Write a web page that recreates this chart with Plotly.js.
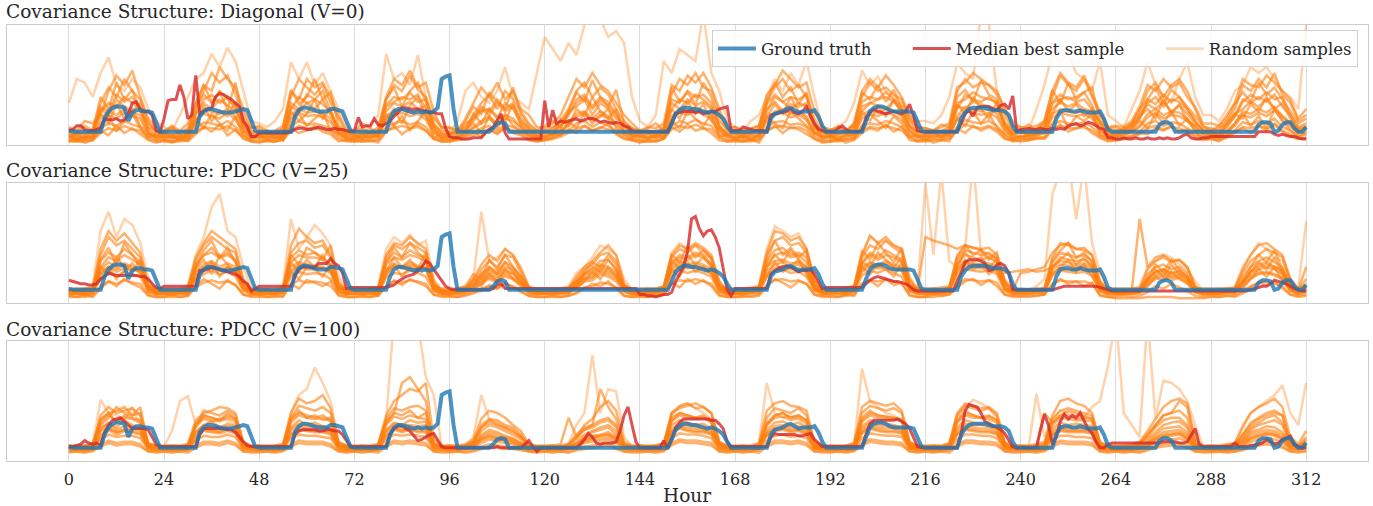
<!DOCTYPE html>
<html>
<head>
<meta charset="utf-8">
<script src="https://cdn.plot.ly/plotly-3.0.1.min.js"></script>
<style>html,body{margin:0;padding:0;background:#fff;}#chart{width:1373px;height:506px;}</style>
</head>
<body>
<div id="chart"></div>
<script>
// ---------- DATA (arbitrary units: panel bottom = 0, top = 100) ----------
const panelTitles = [
  'Covariance Structure: Diagonal (V=0)',
  'Covariance Structure: PDCC (V=25)',
  'Covariance Structure: PDCC (V=100)'
];
const xTicks = [0, 24, 48, 72, 96, 120, 144, 168, 192, 216, 240, 264, 288, 312];
const legendNames = ['Ground truth', 'Median best sample', 'Random samples'];

// Ground truth, hourly h0..h312
const groundTruth = [
 12,11,11,11,11,11,11,11,11,22,28,31,32,32,31,20,27,29,29,28,28,27,18,11,
 11,11,11,11,11,11,11,11,11,24,28,30,30,29,28,27,27,27,28,29,30,29,20,12,
 11,11,11,11,11,11,11,11,11,24,29,31,31,30,29,28,28,28,30,30,29,28,20,12,
 11,11,11,11,11,11,11,11,11,22,28,30,30,29,28,27,28,27,28,27,28,31,55,57,
 58,30,11,11,11,11,11,11,11,11,11,14,18,19,18,11,11,11,11,11,11,11,11,11,
 11,11,11,11,11,11,11,11,11,11,11,11,11,11,11,11,11,11,11,11,11,11,11,11,
 11,11,11,11,11,11,11,11,18,26,29,31,31,30,30,29,28,27,28,27,25,22,16,11,
 11,11,11,11,11,11,11,11,11,22,26,27,28,30,31,29,27,28,28,28,29,24,16,11,
 11,11,11,11,11,11,11,11,11,20,28,31,32,32,31,29,28,28,28,28,28,27,20,12,
 11,11,11,11,11,11,11,11,11,22,27,30,31,31,31,31,30,29,29,29,28,25,16,11,
 11,11,11,11,11,11,11,11,11,22,28,29,29,28,28,29,28,27,27,27,28,22,13,11,
 11,11,11,11,11,11,11,11,11,11,11,17,19,19,17,11,11,11,11,11,11,11,11,11,
 11,11,11,11,11,11,11,11,11,11,11,11,17,19,19,18,11,12,17,19,19,14,11,11,
 15
];

// Median best sample, hourly, one per panel
const medianDiag = [
 12,13,16,16,13,12,12,13,14,22,21,21,22,20,21,26,35,36,30,28,28,25,12,11,
 22,37,38,38,50,40,22,25,58,26,28,30,31,40,43,42,40,38,35,32,20,15,7,7,
 10,10,10,10,10,10,10,10,11,13,14,14,13,13,14,15,14,13,13,14,13,13,12,11,
 12,23,15,16,16,22,17,16,18,20,24,27,31,31,30,30,30,29,28,27,27,26,26,14,
 7,6,6,5,5,5,6,6,6,10,13,15,20,26,10,5,5,5,5,5,5,5,5,5,
 37,15,29,18,20,19,20,21,22,20,21,22,22,21,19,20,19,18,19,18,16,15,12,11,
 11,11,11,11,11,11,11,11,18,26,27,28,28,28,27,28,26,27,28,28,30,31,32,12,
 12,12,15,14,13,12,12,12,11,25,26,27,27,28,30,27,26,28,32,24,18,13,12,11,
 11,11,14,16,13,11,11,11,12,23,27,30,28,27,26,27,28,27,26,28,34,24,12,11,
 11,11,11,11,11,11,11,11,11,18,26,29,24,31,32,32,32,30,29,33,34,30,41,12,
 13,13,14,13,13,14,13,13,14,13,14,13,16,17,18,16,17,19,18,16,14,13,6,6,
 5,5,6,5,5,6,5,5,6,5,5,6,5,6,5,5,6,8,9,6,5,5,6,6,
 7,7,7,7,7,7,7,7,7,7,7,7,11,11,11,11,9,8,9,8,7,7,6,5,
 5
];
const medianPdcc25 = [
 19,18,17,16,16,15,15,16,20,22,25,24,23,23,23,23,23,23,22,22,20,16,13,12,
 14,14,14,14,14,14,14,14,14,27,27,28,30,29,28,27,26,25,24,22,18,16,10,12,
 14,14,14,14,14,14,14,14,14,22,28,30,30,30,30,33,33,33,37,33,31,25,12,13,
 13,13,13,13,13,13,13,13,13,14,15,18,20,22,23,24,27,30,35,33,28,23,18,14,
 12,11,11,11,11,11,11,11,11,11,11,12,15,16,12,12,12,12,12,12,12,12,12,12,
 12,12,12,12,12,12,12,12,12,12,12,12,12,12,12,12,12,12,12,12,12,12,12,12,
 7,7,6,6,5,6,7,7,9,18,24,30,43,70,72,62,56,60,61,55,46,30,11,6,
 12,12,12,12,12,12,12,12,12,24,27,29,30,31,30,28,26,27,27,28,24,18,12,13,
 13,13,13,13,13,13,13,13,13,16,19,21,22,21,20,19,18,18,17,16,14,11,10,10,
 10,10,10,10,10,10,10,10,18,25,34,36,36,36,35,33,27,28,32,33,31,25,11,11,
 11,11,11,11,11,11,11,11,11,12,13,14,14,14,14,14,14,14,14,14,13,12,11,10,
 10,10,10,10,10,10,10,10,10,10,10,10,10,10,10,10,10,10,10,10,10,10,10,10,
 10,10,10,10,10,10,10,10,10,10,11,12,13,14,14,16,19,18,17,16,14,12,11,10,
 10
];
const medianPdcc100 = [
 12,12,13,14,17,15,14,15,13,24,30,34,35,36,33,30,27,27,27,27,26,20,14,12,
 12,12,12,12,12,12,12,12,12,22,27,27,27,27,27,27,26,26,24,20,16,13,12,12,
 12,12,12,12,12,12,12,12,12,22,25,26,26,26,26,25,25,26,26,25,25,22,17,12,
 12,12,12,12,12,12,12,12,12,22,27,29,29,27,25,21,17,18,20,22,23,18,12,11,
 11,11,11,11,11,11,11,11,11,11,11,11,12,11,11,11,11,11,11,14,17,12,8,11,
 11,11,11,11,11,11,11,11,11,14,18,23,20,15,14,15,15,15,16,25,38,45,30,16,
 11,11,11,11,11,11,17,11,18,28,32,35,35,35,35,35,35,35,34,34,31,27,16,12,
 12,12,12,12,12,12,12,12,12,20,23,22,22,22,22,22,21,21,22,23,18,15,12,12,
 12,12,12,12,12,12,12,12,12,22,31,34,34,34,34,34,34,35,33,31,27,19,12,11,
 11,11,11,11,11,11,11,11,11,23,42,47,46,45,40,33,31,29,28,26,23,18,12,11,
 11,11,11,11,11,26,39,30,14,20,33,39,35,38,36,40,33,27,23,16,11,11,14,15,
 15,15,15,15,15,15,15,15,15,15,15,15,16,16,16,16,15,15,16,22,27,14,12,12,
 12,12,12,12,12,12,15,12,12,12,13,13,14,15,18,16,14,15,18,19,21,14,12,11,
 11
];

// Random samples, every 2 hours h0,h2,...,h312 (12 values per day + final)
const samplesDiag = [
 [35,55,52,40,60,73,50,45,55,48,30,20, 15,12,25,40,55,60,76,65,81,70,45,20, 18,15,20,30,69,55,69,50,60,45,30,15, 12,10,15,25,76,55,60,50,75,40,25,15, 10,20,45,52,40,35,45,65,40,35,30,60, 90,80,70,85,75,100,110,105,90,95,85,40, 20,15,25,70,60,80,75,70,110,60,45,20, 15,12,20,25,40,55,45,60,50,70,40,15, 12,15,20,35,62,50,57,45,40,35,25,20, 20,18,25,40,68,60,55,110,100,45,30,20, 15,12,30,50,76,70,76,60,55,45,70,25, 20,15,30,45,69,50,40,35,55,69,40,25, 25,20,30,45,50,65,60,65,55,45,40,30, 100],
 [8,10,9,12,35,48,40,55,45,38,20,10, 9,8,10,12,30,45,60,52,58,42,25,12, 10,9,8,14,40,55,48,42,50,35,22,10, 8,9,10,12,38,50,45,58,46,40,18,10, 9,12,15,25,35,42,30,45,38,28,18,12, 10,14,20,30,45,52,40,48,42,30,20,14, 12,10,11,15,42,55,50,60,48,45,25,12, 10,9,10,14,36,48,55,45,50,40,22,11, 9,10,12,16,40,52,45,48,42,38,20,12, 11,10,12,15,45,55,48,52,50,42,25,12, 10,12,14,18,40,58,50,45,55,40,25,14, 12,14,18,28,45,52,40,50,55,45,30,15, 14,12,20,30,50,45,55,48,60,42,35,20, 25],
 [6,5,6,8,28,35,32,40,35,30,12,6, 7,6,6,9,25,38,42,35,40,30,15,7, 6,7,6,8,30,40,35,38,34,28,12,7, 7,6,7,9,32,36,40,38,42,30,14,6, 6,8,12,20,28,30,22,35,30,18,12,8, 8,10,15,25,35,40,30,38,33,25,15,9, 7,6,8,10,30,38,35,42,38,32,16,8, 6,7,6,9,28,40,36,30,35,32,14,7, 7,6,8,12,32,35,38,40,36,30,15,8, 8,7,9,10,30,42,38,36,40,34,16,8, 7,8,10,14,35,38,40,36,38,30,18,9, 9,10,14,22,35,40,32,38,36,30,20,12, 10,9,15,24,38,35,40,36,42,32,25,15, 18],
 [5,5,5,6,22,28,25,30,27,25,10,5, 5,4,5,7,20,30,28,26,30,24,12,6, 6,5,5,6,25,30,27,28,26,22,10,5, 5,5,6,7,24,28,30,27,29,24,11,5, 5,6,9,15,20,24,18,25,22,15,9,6, 6,8,12,18,26,28,22,28,24,18,12,7, 5,5,6,8,24,30,28,32,28,25,12,6, 5,6,5,7,22,28,30,26,28,24,11,6, 6,5,6,9,25,29,27,30,28,24,12,6, 6,6,7,8,24,32,30,28,30,26,13,6, 6,7,8,10,26,30,28,27,29,24,14,7, 7,8,11,16,26,30,25,28,27,22,15,9, 8,7,12,18,28,26,30,27,32,24,18,11, 13],
 [4,3,4,5,14,18,16,20,17,15,7,4, 4,3,4,5,13,19,18,16,20,15,8,4, 4,4,3,5,16,20,17,18,16,14,7,4, 3,4,4,5,15,18,20,17,19,15,7,4, 4,5,7,10,14,16,12,17,15,11,7,5, 5,6,9,12,18,20,15,19,16,12,8,5, 4,3,4,6,16,20,18,21,18,16,8,4, 4,4,4,5,15,19,20,17,18,15,7,4, 4,4,5,6,16,18,17,20,18,15,8,4, 4,5,5,6,15,21,19,18,20,16,8,4, 5,5,6,7,17,20,18,17,19,15,9,5, 5,6,8,11,18,20,16,19,18,14,10,6, 6,5,8,12,19,17,20,18,22,15,12,7, 9],
 [10,8,12,9,30,25,38,32,28,35,15,12, 9,14,8,10,26,35,30,38,33,28,18,10, 12,9,10,8,32,28,35,30,38,25,14,9, 10,12,9,11,28,35,32,36,30,33,16,12, 11,9,18,22,30,25,35,28,32,20,14,10, 12,15,18,28,32,38,25,35,30,22,18,11, 10,12,9,14,35,30,38,33,36,30,15,10, 12,9,11,13,30,36,28,34,32,35,17,12, 9,11,10,15,28,35,33,30,37,28,16,11, 10,12,11,13,33,30,36,34,32,30,18,10, 12,10,13,16,30,36,32,35,30,28,20,12, 11,13,16,25,34,30,36,28,33,26,18,13, 12,14,18,26,30,36,32,38,30,35,22,14, 16],
 [7,6,7,7,18,25,22,27,24,22,9,7, 7,6,6,8,20,26,24,22,27,21,10,7, 7,7,6,7,22,27,24,25,23,19,9,6, 6,7,7,8,21,25,27,24,26,21,10,7, 7,7,10,14,18,22,16,22,20,14,9,7, 7,9,12,16,24,26,20,25,22,16,11,8, 7,6,7,9,22,27,25,29,25,22,10,7, 6,7,7,8,20,25,27,23,25,21,10,7, 7,7,8,9,22,26,24,27,25,21,10,7, 7,8,8,9,21,28,27,25,27,23,11,7, 7,8,9,11,23,27,25,24,26,22,12,8, 8,9,11,15,23,27,22,25,24,20,13,9, 9,8,11,16,25,23,27,24,29,21,15,10, 11],
 [15,12,20,18,25,45,58,50,62,40,22,15, 12,15,10,14,35,50,45,65,55,48,30,15, 14,10,12,16,45,38,55,48,52,40,25,12, 12,14,10,15,40,55,50,62,48,52,28,14, 15,12,22,35,48,40,52,38,45,30,25,15, 14,18,25,40,55,48,60,50,45,35,25,18, 12,15,14,18,50,45,58,52,60,48,30,14, 15,12,14,16,42,50,62,55,48,52,28,15, 13,14,12,18,45,55,48,58,50,40,25,14, 14,12,15,18,48,52,60,55,50,45,30,16, 15,14,16,20,45,60,52,48,58,42,28,15, 16,15,20,32,50,45,55,48,52,40,32,18, 18,16,25,35,55,50,48,58,52,45,38,22, 30],
 [3,3,3,4,10,14,12,16,13,12,5,3, 3,3,3,4,11,15,14,13,16,12,6,3, 3,3,3,4,12,16,14,14,13,11,5,3, 3,3,3,4,12,14,16,14,15,12,5,3, 3,4,5,8,11,13,10,14,12,9,5,3, 4,5,7,10,14,16,12,15,13,10,6,4, 3,3,3,5,13,16,14,17,14,13,6,3, 3,3,3,4,12,15,16,14,15,12,5,3, 3,3,4,5,13,15,14,16,14,12,6,3, 3,4,4,5,12,17,15,14,16,13,6,3, 4,4,5,6,14,16,14,14,15,12,7,4, 4,5,6,9,14,16,13,15,14,11,8,5, 5,4,6,10,15,14,16,14,18,12,9,5, 6],
 [8,7,9,10,32,28,42,36,40,30,14,8, 8,9,7,10,30,42,35,45,38,33,16,9, 9,8,8,10,35,30,42,38,45,28,14,8, 8,9,8,11,33,40,38,44,36,38,15,9, 9,10,14,22,32,28,38,30,35,22,14,9, 10,12,16,26,38,42,32,40,36,26,16,10, 9,8,9,12,38,35,45,40,42,35,16,9, 8,9,9,11,34,42,36,40,38,42,15,9, 9,9,10,13,36,40,38,44,38,32,16,10, 9,10,10,12,35,38,44,40,38,36,17,9, 10,9,11,14,36,42,38,40,44,33,18,10, 10,11,14,22,38,34,42,36,40,30,20,12, 11,10,16,24,36,42,38,44,38,40,25,13, 15],
 [6,9,5,12,26,18,34,22,30,16,10,7, 11,6,8,5,18,33,20,28,24,36,12,8, 7,12,6,9,28,20,26,38,22,30,9,12, 9,5,11,7,22,30,18,33,40,24,14,6, 8,14,10,26,18,30,24,20,34,16,11,7, 12,8,22,16,30,24,40,28,22,30,10,9, 7,10,6,12,30,22,36,26,34,20,13,8, 10,6,9,7,24,34,26,40,28,22,9,11, 6,9,12,8,28,20,32,24,38,26,12,7, 8,11,7,10,34,26,40,30,22,36,14,9, 12,7,10,14,26,38,28,34,24,30,11,8, 9,12,16,24,30,22,38,26,34,20,16,10, 11,8,18,26,22,34,28,40,30,24,18,12, 14],
 [9,4,7,6,15,24,12,20,26,14,6,10, 5,8,4,9,22,14,26,18,12,24,8,5, 8,5,9,4,18,26,16,22,28,12,10,6, 4,9,6,8,26,16,24,12,20,28,6,9, 7,5,12,18,10,24,14,26,16,12,8,5, 6,10,8,20,14,28,18,24,30,14,9,6, 9,5,8,6,20,14,28,22,16,26,7,9, 5,8,4,9,24,18,14,28,22,16,10,5, 8,4,9,6,16,26,20,14,24,18,7,8, 4,9,6,8,22,16,28,18,26,14,9,5, 7,5,8,10,18,28,14,24,20,26,8,7, 6,9,12,20,14,26,18,28,16,22,11,6, 9,6,10,18,26,16,24,14,30,20,12,8, 10],
 [14,10,16,12,40,30,52,38,46,28,18,12, 11,16,12,18,34,50,36,44,30,52,20,14, 16,12,10,14,46,34,40,55,38,44,16,11, 12,18,14,10,38,48,32,45,52,36,22,15, 14,11,20,32,26,44,36,30,48,26,16,12, 16,20,14,28,44,36,54,40,32,46,18,14, 11,14,18,12,48,36,44,34,52,40,20,13, 15,11,13,16,36,52,40,48,34,44,17,12, 12,16,11,18,44,38,50,36,46,30,22,15, 14,12,17,15,40,46,36,54,42,38,19,12, 13,17,12,20,46,34,52,38,44,48,20,14, 15,12,18,30,38,48,34,46,40,32,24,16, 12,16,22,34,44,36,52,42,48,38,28,18, 22],
 [3,5,2,4,12,8,16,10,14,9,4,2, 4,2,5,3,9,15,11,17,8,13,5,3, 2,4,3,5,14,10,12,16,11,9,3,4, 5,3,4,2,11,16,9,14,17,12,5,3, 3,5,8,11,7,13,9,15,10,8,4,3, 4,6,9,13,10,16,12,14,18,9,5,4, 2,4,3,5,15,11,17,12,14,10,4,3, 4,3,5,2,12,16,10,15,13,9,5,2, 3,5,2,4,10,14,12,17,11,15,4,3, 5,2,4,3,14,10,16,12,15,11,5,4, 3,4,6,5,12,17,11,14,16,10,6,3, 4,5,7,10,9,14,12,16,11,13,6,4, 5,3,8,11,14,10,16,12,17,11,7,5, 6]
];
const samplesPdcc25 = [
 [12,10,11,14,60,76,55,70,65,50,20,12, 11,10,12,15,40,55,80,91,60,55,30,12, 12,11,10,14,70,45,55,65,58,48,22,12, 11,12,10,14,45,55,50,57,48,52,20,11, 10,12,14,20,76,35,38,45,40,30,14,11, 11,10,12,14,25,30,38,48,45,40,20,11, 10,11,12,14,42,50,45,48,40,38,18,10, 11,10,12,14,45,64,60,55,58,45,20,11, 10,11,12,14,40,56,50,52,48,45,22,12, 100,40,110,35,30,45,120,40,38,35,20,12, 12,11,14,20,91,110,120,70,115,50,25,12, 11,10,12,14,30,35,40,38,32,28,18,11, 10,11,12,14,30,40,50,45,38,35,20,12, 68],
 [10,9,10,12,40,55,48,52,45,38,15,10, 10,9,10,12,35,48,55,50,45,42,18,10, 10,10,9,12,42,50,52,46,48,38,16,10, 10,10,11,12,38,48,45,50,46,42,16,10, 10,11,12,18,28,35,30,40,38,25,12,10, 10,10,11,12,20,28,32,40,42,35,15,10, 10,10,11,13,38,45,42,48,44,38,16,10, 10,10,11,13,40,52,55,48,50,42,18,10, 10,11,11,13,38,48,45,52,46,42,18,11, 55,52,50,48,45,48,46,44,40,38,18,11, 25,26,28,30,42,48,50,45,44,40,18,11, 11,10,11,12,28,35,38,34,36,30,14,10, 10,10,11,12,25,35,40,45,42,38,18,11, 20],
 [9,8,9,10,28,34,30,33,30,28,12,9, 9,8,9,10,26,32,35,30,33,30,13,9, 9,9,8,10,30,34,32,31,30,27,12,9, 9,9,9,10,28,33,30,34,31,29,12,9, 9,9,10,14,22,26,22,28,25,18,10,9, 9,9,10,10,16,22,24,30,28,24,12,9, 9,9,10,11,30,35,32,34,32,28,12,9, 9,9,10,11,30,35,36,33,34,30,13,9, 9,10,10,11,30,34,32,35,32,30,13,9, 10,9,10,11,30,35,33,32,33,30,14,9, 9,10,10,11,30,35,34,32,33,30,14,9, 9,9,10,10,20,26,28,25,27,22,11,9, 9,9,10,10,18,26,30,32,30,26,13,9, 12],
 [7,7,7,8,20,25,22,26,24,22,9,7, 7,7,7,8,19,24,27,24,26,22,10,7, 7,7,7,8,22,26,24,25,24,20,9,7, 7,7,7,8,21,25,24,27,25,22,10,7, 7,7,8,11,16,20,17,22,20,14,8,7, 7,7,7,8,13,18,19,24,22,18,9,7, 7,7,8,9,22,27,25,27,25,22,9,7, 7,7,8,9,22,27,28,25,26,22,10,7, 7,7,8,9,23,27,25,28,25,22,10,7, 7,7,8,9,22,28,27,26,27,24,10,7, 7,8,8,9,23,27,26,25,26,23,10,7, 7,7,8,8,15,20,22,19,21,17,9,7, 7,7,8,8,14,20,24,25,23,20,10,7, 9],
 [11,10,10,11,24,30,26,29,28,27,12,10, 10,10,10,11,22,29,29,27,28,28,13,10, 10,10,10,11,25,31,28,28,29,26,12,10, 10,10,10,11,23,30,29,30,28,30,12,10, 10,10,11,13,18,22,18,24,21,16,11,10, 10,10,10,11,14,20,21,26,24,20,12,10, 10,10,11,12,25,31,29,30,28,25,12,10, 10,10,11,12,24,29,31,28,29,26,12,10, 10,11,11,12,26,31,29,29,28,27,12,10, 10,10,11,12,25,31,30,29,29,26,12,10, 10,11,11,12,25,29,28,28,28,26,12,10, 10,10,11,11,16,22,24,21,22,18,11,10, 10,10,11,11,15,22,25,26,24,21,12,10, 14],
 [8,8,8,10,35,42,38,45,40,34,14,8, 8,8,9,10,32,40,46,38,42,36,15,8, 9,8,8,10,38,44,40,42,38,32,14,8, 8,8,9,10,34,42,38,44,40,38,14,8, 8,9,10,15,25,30,26,34,30,22,11,8, 8,8,9,10,18,25,28,35,36,28,13,8, 8,9,9,11,34,40,38,42,40,32,14,8, 8,8,9,11,35,44,46,40,42,38,15,8, 8,9,9,11,34,42,38,44,40,36,15,9, 9,8,9,11,36,44,42,40,42,36,16,9, 9,9,10,11,34,42,40,38,40,35,16,9, 8,8,9,10,24,30,32,28,30,25,12,8, 8,8,9,10,22,30,35,38,34,30,15,9, 14],
 [5,5,5,6,14,18,16,19,17,16,7,5, 5,5,5,6,13,17,19,17,18,15,7,5, 5,5,5,6,15,19,17,18,17,14,7,5, 5,5,5,6,14,18,17,19,18,16,7,5, 5,5,6,8,12,14,12,16,14,10,6,5, 5,5,5,6,9,13,14,17,16,13,6,5, 5,5,6,7,16,19,18,20,18,16,7,5, 5,5,6,7,15,19,20,18,19,16,7,5, 5,5,6,7,16,19,18,20,18,16,7,5, 5,5,6,7,15,20,19,18,19,17,7,5, 5,6,6,7,16,19,18,18,18,16,7,5, 4,4,4,4,5,5,5,5,4,4,4,4, 5,5,6,6,10,14,17,18,16,14,7,5, 6],
 [10,10,10,12,45,60,52,58,50,42,16,10, 10,10,10,12,38,50,60,55,50,45,20,10, 10,10,10,12,48,62,55,50,52,40,18,10, 10,10,10,12,40,50,48,55,50,45,18,10, 10,10,12,20,32,40,35,45,40,28,13,10, 10,10,10,12,22,30,35,42,48,40,16,10, 10,10,11,13,40,48,45,50,46,40,18,10, 10,10,11,13,42,60,58,52,55,45,20,10, 10,11,11,13,40,56,50,55,48,45,20,11, 11,10,11,13,40,48,46,45,46,40,18,10, 10,11,11,13,38,50,48,45,46,40,18,10, 10,10,10,70,30,38,40,35,36,30,14,10, 10,10,10,12,28,40,48,50,45,40,20,11, 30],
 [8,8,9,9,26,30,28,32,28,26,11,8, 8,8,8,9,24,30,33,28,30,28,12,8, 8,8,8,9,27,32,30,30,29,25,11,8, 8,8,8,9,26,31,29,32,30,28,11,8, 8,8,9,12,20,24,20,26,24,17,9,8, 8,8,8,9,15,20,22,28,26,22,11,8, 8,8,9,10,28,33,30,32,30,26,11,8, 8,8,9,10,27,32,34,30,32,28,12,8, 8,9,9,10,28,33,30,33,30,28,12,8, 8,8,9,10,28,33,32,30,31,28,12,8, 8,9,9,10,28,32,31,30,31,28,12,8, 8,8,8,9,18,24,26,22,24,20,10,8, 8,8,9,9,17,24,28,30,28,24,12,8, 11],
 [12,12,12,13,30,38,35,40,36,32,14,12, 12,12,12,13,30,40,42,38,40,35,15,12, 12,12,12,13,34,40,38,38,36,32,14,12, 12,12,12,13,32,38,36,40,38,35,14,12, 12,12,13,15,24,28,24,30,28,20,13,12, 12,12,12,13,18,24,26,32,30,26,14,12, 12,12,12,14,32,38,36,40,38,32,14,12, 12,12,13,14,32,40,42,38,40,34,15,12, 12,12,13,14,33,40,36,40,38,34,15,12, 12,12,13,14,32,40,38,36,38,34,25,26, 27,28,26,27,30,38,36,35,36,32,15,12, 12,12,12,12,20,26,28,24,26,22,12,12, 12,12,12,12,18,26,32,34,30,28,14,12, 16],
 [9,11,8,10,22,30,20,27,33,24,12,9, 10,8,11,9,20,28,34,22,30,26,11,10, 8,10,9,11,26,20,30,28,22,32,10,8, 11,9,10,8,24,32,22,30,26,35,12,10, 9,10,12,16,14,24,18,28,20,15,10,9, 10,9,11,10,12,18,26,20,30,22,11,9, 9,11,9,12,28,22,34,26,30,24,11,9, 10,9,11,10,22,34,26,30,36,24,12,10, 11,10,9,12,30,24,32,28,22,34,11,9, 9,11,10,12,26,36,28,32,24,30,12,10, 10,9,11,10,24,30,36,26,32,22,11,9, 9,10,9,11,14,22,18,26,20,16,10,9, 10,9,11,10,12,20,28,22,30,18,11,10, 12],
 [7,9,6,8,30,24,38,30,26,36,10,7, 8,6,9,7,28,36,24,40,32,26,12,8, 6,8,7,9,34,26,36,30,40,28,9,7, 9,7,8,6,26,38,30,36,28,42,11,8, 7,8,10,20,16,30,24,34,26,18,8,7, 8,7,9,8,14,24,30,26,36,28,10,7, 7,9,8,10,36,28,40,32,38,30,10,7, 8,7,9,8,30,40,34,44,36,30,11,8, 9,8,7,10,34,30,42,36,30,38,10,8, 7,9,8,10,32,42,34,38,30,36,11,8, 8,7,9,8,30,36,42,32,38,30,10,7, 7,8,7,9,18,28,22,32,24,20,9,7, 8,7,9,8,16,26,34,28,38,24,10,8, 10],
 [6,5,7,5,12,18,14,20,16,13,6,5, 5,7,5,6,14,20,16,12,19,15,7,6, 7,5,6,5,16,12,19,17,14,18,6,5, 5,6,5,7,13,19,15,20,17,14,7,6, 6,5,7,9,10,15,12,17,13,9,6,5, 5,6,5,6,8,12,16,14,18,12,6,5, 6,5,6,7,17,13,20,16,19,14,6,5, 5,6,5,6,14,20,17,13,18,16,7,6, 6,5,7,6,16,19,14,20,15,17,6,5, 5,7,6,7,13,18,20,15,19,14,7,6, 6,5,6,7,15,20,16,18,14,17,6,5, 5,6,5,6,9,14,12,16,13,10,6,5, 6,5,6,5,8,13,17,15,18,12,7,6, 7],
 [11,10,12,11,36,46,32,50,40,30,14,11, 10,12,11,13,30,44,52,38,46,34,15,11, 12,11,10,12,40,32,46,42,36,48,14,10, 11,10,12,11,34,46,38,50,42,36,15,11, 10,12,14,24,20,36,28,40,30,22,12,10, 11,10,12,11,16,26,34,30,40,32,13,10, 10,12,11,13,40,34,48,38,44,36,14,11, 11,10,12,11,36,52,40,46,38,44,15,10, 12,11,10,13,44,36,50,42,34,46,14,11, 10,12,11,13,38,48,40,44,36,42,16,11, 11,10,12,11,36,44,50,38,42,34,14,10, 10,11,10,12,20,32,26,36,28,22,12,10, 11,10,12,11,18,30,40,34,44,28,14,11, 14]
];
const samplesPdcc100 = [
 [12,12,12,13,51,40,38,35,45,30,14,12, 12,25,50,54,30,35,32,36,34,30,14,12, 12,12,12,13,40,55,60,78,65,50,16,12, 12,12,12,13,35,120,110,105,115,70,55,12, 12,12,13,20,55,35,30,28,25,20,13,12, 12,12,13,15,30,40,88,40,60,58,20,12, 12,12,12,14,38,45,48,44,40,35,14,12, 12,12,12,14,65,40,36,38,35,30,14,12, 12,12,12,14,77,50,45,40,38,34,14,12, 12,12,12,14,38,45,51,48,44,36,14,12, 12,12,56,20,35,42,40,38,36,45,50,79, 120,40,30,20,120,35,67,65,60,50,30,12, 12,12,13,14,30,40,45,50,55,63,40,30, 65],
 [11,11,11,12,38,45,40,42,44,38,14,11, 11,11,11,12,30,42,40,38,42,38,14,11, 11,11,11,12,36,46,44,42,45,40,15,11, 11,11,11,12,35,44,42,45,46,42,15,11, 11,11,12,16,30,35,34,30,28,22,12,11, 11,11,12,14,22,28,30,34,36,30,14,11, 11,11,11,13,40,46,48,44,45,40,16,11, 11,11,11,13,36,44,42,40,44,38,15,11, 11,11,11,13,40,46,44,42,44,40,16,11, 11,11,11,13,38,46,44,42,44,38,15,11, 11,11,12,14,35,42,44,42,40,38,15,11, 11,11,12,14,22,30,38,40,42,36,15,11, 11,11,12,13,22,32,36,40,42,38,16,11, 18],
 [12,12,12,12,28,31,26,29,29,27,12,12, 12,12,12,12,24,30,28,28,29,28,12,12, 12,12,12,12,27,31,29,29,29,27,12,12, 12,12,12,12,25,31,29,30,29,30,13,12, 12,12,12,13,20,24,22,20,18,15,12,12, 12,12,12,12,15,19,21,22,24,20,13,12, 12,12,12,12,27,31,30,29,28,26,12,12, 12,12,12,12,24,29,30,28,29,26,12,12, 12,12,12,12,27,32,30,29,28,27,12,12, 12,12,12,12,26,31,30,30,29,26,12,12, 12,12,12,12,25,29,28,28,28,27,12,12, 12,12,12,12,15,20,24,25,26,22,12,12, 12,12,12,12,16,22,24,26,25,22,13,12, 14],
 [10,10,10,10,18,22,20,21,21,19,10,10, 10,10,10,10,17,21,20,20,22,20,10,10, 10,10,10,10,19,22,21,21,20,19,10,10, 10,10,10,10,18,22,21,22,21,20,10,10, 10,10,10,11,15,18,16,15,14,12,10,10, 10,10,10,10,12,15,16,17,18,15,10,10, 10,10,10,10,19,23,22,22,21,19,10,10, 10,10,10,10,17,21,22,20,21,19,10,10, 10,10,10,10,19,23,22,21,21,20,10,10, 10,10,10,10,18,22,22,21,21,19,10,10, 10,10,10,10,18,21,21,20,20,19,10,10, 10,10,10,10,12,15,17,18,19,16,10,10, 10,10,10,10,12,16,18,19,18,16,10,10, 11],
 [11,11,11,11,32,38,34,36,35,32,13,11, 11,11,11,11,28,36,34,33,36,33,13,11, 11,11,11,11,32,38,36,35,36,33,13,11, 11,11,11,11,30,37,35,38,36,35,13,11, 11,11,11,14,25,30,28,25,22,18,11,11, 11,11,11,12,18,22,25,28,30,25,13,11, 11,11,11,12,33,38,36,35,36,32,13,11, 11,11,11,12,30,36,37,34,36,32,13,11, 11,11,11,12,33,38,36,35,35,33,13,11, 11,11,11,12,32,38,36,36,35,32,13,11, 11,11,11,12,30,36,35,34,34,33,13,11, 11,11,11,12,18,24,30,32,33,28,13,11, 11,11,11,12,18,26,30,32,34,30,14,11, 15],
 [13,13,13,14,35,40,42,45,38,40,15,13, 13,13,13,14,34,40,42,45,44,40,16,13, 13,13,13,14,40,52,48,50,55,44,16,13, 13,13,13,14,38,50,55,60,58,65,18,13, 13,13,14,18,35,42,40,36,30,25,14,13, 13,13,14,36,20,30,35,45,50,42,16,13, 13,13,13,15,40,44,46,48,45,40,16,13, 13,13,13,15,42,48,50,46,45,42,16,13, 13,13,13,15,45,50,48,46,48,42,16,13, 13,13,13,15,40,48,46,44,45,40,16,13, 13,13,14,16,38,50,52,48,46,40,16,13, 13,13,14,16,25,35,45,50,52,48,18,13, 13,13,14,15,28,40,45,48,52,45,20,14, 25],
 [8,8,8,9,14,17,15,16,16,14,8,8, 8,8,8,9,13,16,16,15,17,15,8,8, 8,8,8,9,14,17,16,16,16,14,8,8, 8,8,8,9,14,17,16,17,16,15,8,8, 8,8,8,9,12,14,13,12,11,10,8,8, 8,8,8,8,10,12,13,14,15,12,8,8, 8,8,8,9,15,18,17,17,16,15,8,8, 8,8,8,9,14,17,17,16,17,15,8,8, 8,8,8,9,15,18,17,16,16,15,8,8, 8,8,8,9,14,17,17,16,16,15,8,8, 8,8,8,9,14,17,16,16,16,15,8,8, 8,8,8,8,10,12,14,15,15,13,8,8, 8,8,8,8,10,13,15,16,15,13,8,8, 9],
 [12,11,12,12,25,28,24,26,27,25,12,11, 11,12,11,12,22,27,26,25,27,26,12,11, 11,11,12,12,25,29,27,27,26,25,12,11, 11,12,11,12,24,28,26,28,27,27,12,11, 11,11,12,13,19,22,20,19,17,14,11,11, 11,11,11,12,14,18,20,21,22,19,12,11, 11,11,12,12,25,29,28,27,26,24,12,11, 11,11,12,12,23,27,28,26,27,24,12,11, 11,12,12,12,25,30,28,27,27,25,12,11, 11,11,12,12,24,29,28,27,27,24,12,11, 11,11,12,12,23,27,26,26,26,25,12,11, 11,11,12,12,14,19,22,23,24,20,12,11, 11,11,12,12,15,20,22,24,23,20,12,11, 13],
 [12,12,12,13,30,36,45,40,38,45,14,12, 12,12,12,13,30,38,36,34,38,35,14,12, 12,12,12,13,34,40,38,36,38,34,14,12, 12,12,12,13,32,40,65,70,60,50,14,12, 12,12,13,16,28,34,32,28,26,20,13,12, 12,12,12,13,20,26,30,60,45,35,14,12, 12,12,12,13,34,40,38,36,36,33,14,12, 12,12,12,13,30,38,40,36,38,34,14,12, 12,12,12,13,34,40,38,37,36,34,14,12, 12,12,12,13,33,40,38,36,37,34,14,12, 12,12,13,40,32,38,42,40,38,35,15,12, 12,12,13,15,22,30,38,40,50,45,15,12, 12,12,13,14,22,30,35,38,40,38,15,12, 20],
 [9,9,9,10,22,26,22,25,24,22,10,9, 9,9,9,10,20,25,24,23,25,23,10,9, 9,9,9,10,22,26,25,24,24,22,10,9, 9,9,9,10,21,26,24,26,24,24,10,9, 9,9,10,12,17,20,18,17,15,13,9,9, 9,9,9,10,12,16,18,19,20,17,10,9, 9,9,9,10,23,27,25,24,24,22,10,9, 9,9,9,10,21,25,26,24,25,22,10,9, 9,9,9,10,23,27,25,24,24,23,10,9, 9,9,9,10,22,26,25,24,24,22,10,9, 9,9,9,10,21,25,24,24,24,23,10,9, 9,9,9,10,12,17,20,21,22,18,10,9, 9,9,9,10,13,18,20,22,21,18,10,9, 11],
 [11,12,10,11,26,32,28,34,30,27,12,11, 12,10,11,12,24,30,33,28,31,29,12,11, 10,11,12,11,28,34,30,32,29,26,12,10, 11,12,10,11,26,32,30,34,32,33,13,11, 11,10,11,14,22,26,24,21,19,15,11,10, 10,11,10,11,15,20,24,26,28,22,12,11, 11,10,11,12,30,34,32,30,31,27,12,11, 10,11,12,11,26,32,33,30,32,28,12,10, 11,12,10,12,29,34,32,31,30,28,12,11, 12,10,11,12,28,34,32,31,32,28,12,11, 11,11,10,12,27,32,30,31,30,29,12,10, 10,11,12,11,16,22,27,28,29,24,12,11, 11,10,11,12,17,24,26,29,28,24,13,11, 13],
 [9,10,9,10,20,27,24,26,25,23,11,9, 10,9,10,9,19,26,25,24,27,24,11,10, 9,10,9,10,22,27,26,25,25,23,11,9, 10,9,10,9,21,27,25,27,25,25,11,10, 9,10,10,12,18,21,19,18,16,13,10,9, 10,9,10,10,13,17,19,21,22,18,11,10, 9,10,9,10,24,28,26,25,25,23,11,9, 10,9,10,10,22,26,27,25,26,23,11,10, 9,10,9,10,24,28,26,25,25,24,11,9, 10,9,10,10,23,27,26,25,25,23,11,10, 9,10,9,10,22,26,25,25,25,24,11,9, 10,9,10,10,13,18,21,22,23,19,11,10, 9,10,9,10,14,19,21,23,22,19,11,10, 11],
 [13,12,13,14,34,40,32,38,36,34,14,13, 12,13,12,14,30,38,36,34,40,35,14,12, 13,12,13,14,35,42,36,38,34,36,14,13, 12,13,12,14,32,40,38,42,36,40,15,12, 13,12,13,16,28,32,30,27,24,20,13,12, 12,13,12,14,20,26,28,32,34,28,14,12, 13,12,13,14,36,40,38,36,38,34,14,13, 12,13,12,14,32,38,40,36,38,34,14,12, 13,12,13,14,36,42,38,37,36,35,14,13, 12,13,12,14,34,42,38,36,38,34,14,12, 13,12,13,14,32,38,38,35,36,35,14,13, 12,13,12,14,20,28,34,36,36,30,14,12, 13,12,13,14,20,28,32,36,38,32,15,13, 16],
 [7,8,7,8,12,15,13,14,14,12,8,7, 8,7,8,7,11,14,14,13,15,13,8,7, 7,8,7,8,12,15,14,14,14,12,8,7, 8,7,8,7,12,15,14,15,14,13,8,7, 7,8,7,8,10,12,11,10,10,9,8,7, 8,7,8,7,9,10,11,12,13,10,8,7, 7,8,7,8,13,16,15,15,14,13,8,7, 8,7,8,7,12,15,15,14,15,13,8,7, 7,8,7,8,13,16,15,14,14,13,8,7, 8,7,8,7,12,15,15,14,14,13,8,7, 7,8,7,8,12,15,14,14,14,13,8,7, 8,7,8,7,9,11,12,13,13,11,8,7, 7,8,7,8,9,11,13,14,13,11,8,7, 8]
];

// ---------- CHART ----------
const hours = []; for (let h = 0; h <= 312; h++) hours.push(h);
const hours2 = []; for (let h = 0; h <= 312; h += 2) hours2.push(h);

const panels = [
  {title: panelTitles[0], median: medianDiag, samples: samplesDiag},
  {title: panelTitles[1], median: medianPdcc25, samples: samplesPdcc25},
  {title: panelTitles[2], median: medianPdcc100, samples: samplesPdcc100}
];
const domains = [[0.7134, 0.9506], [0.4012, 0.6383], [0.0889, 0.3261]];
const titleY = [0.9763, 0.6630, 0.3498];
const serif = 'DejaVu Serif, Liberation Serif, serif';
const pad = '\u00a0\u00a0\u00a0\u00a0\u00a0\u00a0';

const traces = [];
panels.forEach((p, k) => {
  const xa = k === 0 ? 'x' : 'x' + (k + 1);
  const ya = k === 0 ? 'y' : 'y' + (k + 1);
  p.samples.forEach((s, j) => {
    // the sparse outlier line of each panel stays faint; the overlapping core lines build up colour
    traces.push({x: hours2, y: s, xaxis: xa, yaxis: ya, type: 'scatter', mode: 'lines',
      line: {color: '#ff7f0e', width: 2.5}, opacity: j === 0 ? 0.35 : 0.6, name: legendNames[2],
      showlegend: false, hoverinfo: 'skip'});
  });
  traces.push({x: hours, y: p.median, xaxis: xa, yaxis: ya, type: 'scatter', mode: 'lines',
    line: {color: '#d62728', width: 3}, opacity: 0.8, name: legendNames[1] + pad,
    showlegend: k === 0, legendrank: 2, hoverinfo: 'skip'});
  traces.push({x: hours, y: groundTruth, xaxis: xa, yaxis: ya, type: 'scatter', mode: 'lines',
    line: {color: '#1f77b4', width: 4}, opacity: 0.8, name: legendNames[0] + pad,
    showlegend: k === 0, legendrank: 1, hoverinfo: 'skip'});
});
// legend entry for the random samples (same colour/alpha as matplotlib's swatch)
traces.push({x: [null], y: [null], type: 'scatter', mode: 'lines',
  line: {color: '#ff7f0e', width: 2.8}, opacity: 0.3, name: legendNames[2],
  showlegend: true, legendrank: 3, hoverinfo: 'skip'});

const layout = {
  width: 1373, height: 506,
  margin: {l: 0, r: 0, t: 0, b: 0},
  paper_bgcolor: '#ffffff', plot_bgcolor: '#ffffff',
  font: {family: serif, color: '#262626'},
  showlegend: true,
  legend: {orientation: 'h', x: 0.989, xanchor: 'right', y: 0.94, yanchor: 'top',
    itemwidth: 38,
    bgcolor: 'rgba(255,255,255,0.85)', bordercolor: '#d0d0d0', borderwidth: 1,
    font: {family: serif, size: 16.5, color: '#262626'}},
  annotations: [],
  hovermode: false
};
for (let k = 0; k < 3; k++) {
  const sfx = k === 0 ? '' : String(k + 1);
  layout['xaxis' + sfx] = {
    domain: [0.0051, 0.9964], anchor: 'y' + sfx, range: [-15.6, 327.6],
    tickmode: 'array', tickvals: xTicks, ticktext: xTicks.map(String),
    showticklabels: k === 2, ticks: 'outside', ticklen: 4, tickcolor: 'rgba(0,0,0,0)',
    tickfont: {family: serif, size: 16, color: '#262626'},
    showgrid: true, gridcolor: '#dedede', gridwidth: 1,
    showline: true, mirror: true, linecolor: '#cccccc', linewidth: 1.25,
    zeroline: false, automargin: false, fixedrange: true
  };
  layout['yaxis' + sfx] = {
    domain: domains[k], anchor: 'x' + sfx, range: [0, 100],
    showticklabels: false, showgrid: false, zeroline: false, ticks: '',
    showline: true, mirror: true, linecolor: '#cccccc', linewidth: 1.25,
    automargin: false, fixedrange: true
  };
  layout.annotations.push({text: panels[k].title, xref: 'paper', yref: 'paper',
    x: 0.0028, y: titleY[k], xanchor: 'left', yanchor: 'middle', showarrow: false,
    font: {family: serif, size: 18.5, color: '#262626'}});
}
layout.annotations.push({text: 'Hour', xref: 'paper', yref: 'paper', x: 0.5004, y: 0.0217,
  xanchor: 'center', yanchor: 'middle', showarrow: false,
  font: {family: serif, size: 18.5, color: '#262626'}});

Plotly.newPlot('chart', traces, layout, {staticPlot: true, displayModeBar: false});
</script>
</body>
</html>
